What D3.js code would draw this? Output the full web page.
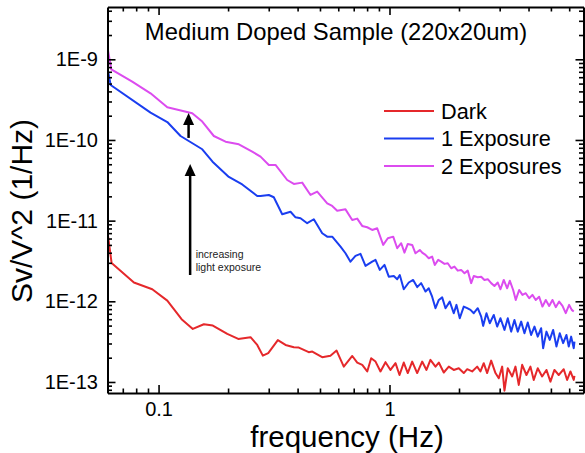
<!DOCTYPE html>
<html>
<head>
<meta charset="utf-8">
<script src="https://cdn.jsdelivr.net/npm/d3@7"></script>
<style>
  body { margin: 0; background: #fff; }
  text { font-family: "Liberation Sans", Arial, sans-serif; fill: #000; }
</style>
</head>
<body>
<svg id="chart" width="585" height="453"></svg>
<script>
// axis ranges and ticks
const xDomain = [0.0601, 6.92]
const yDomain = [7.3e-14, 4.45e-9]
const xMajorTicks = [0.1, 1]
const xTickLabels = ['0.1', '1']
const yMajorTicks = [1e-13, 1e-12, 1e-11, 1e-10, 1e-9]
const yTickLabels = ['1E-13', '1E-12', '1E-11', '1E-10', '1E-9']

// series (frequency in Hz, Sv/V^2 in 1/Hz)
const seriesNames = ['Dark', '1 Exposure', '2 Exposures']
const seriesColors = ['#e5282b', '#1a3ef0', '#dc4cef']

const darkFreq = [0.0601, 0.0626, 0.0782, 0.0939, 0.1091, 0.1258, 0.1407, 0.1571, 0.1718, 0.1984,
  0.2213, 0.2502, 0.2675, 0.2828, 0.2985, 0.3285, 0.3546, 0.3853, 0.405, 0.447,
  0.463, 0.511, 0.555, 0.590, 0.634, 0.690, 0.725, 0.762, 0.801, 0.833,
  0.870, 0.914, 0.961, 1.010, 1.062, 1.105, 1.153, 1.200, 1.254, 1.318,
  1.385, 1.446, 1.504, 1.582, 1.635, 1.718, 1.806, 1.898, 1.995, 2.097,
  2.170, 2.280, 2.397, 2.477, 2.559, 2.648, 2.756, 2.877, 2.973, 3.076,
  3.147, 3.252, 3.398, 3.512, 3.629, 3.754, 3.918, 4.077, 4.214, 4.385,
  4.581, 4.782, 4.977, 5.179, 5.406, 5.682, 5.879, 6.075, 6.279, 6.324]
const darkSv = [7.24e-12, 2.99e-12, 1.71e-12, 1.41e-12, 1.02e-12, 6.0e-13, 4.55e-13, 5.2e-13, 5.0e-13, 3.94e-13,
  3.42e-13, 3.59e-13, 2.88e-13, 2.12e-13, 2.28e-13, 3.30e-13, 2.88e-13, 2.70e-13, 2.67e-13, 2.34e-13,
  2.38e-13, 2.03e-13, 2.12e-13, 2.45e-13, 1.55e-13, 2.10e-13, 1.74e-13, 1.63e-13, 1.35e-13, 1.97e-13,
  1.79e-13, 1.35e-13, 1.76e-13, 1.41e-13, 1.71e-13, 1.22e-13, 1.74e-13, 1.29e-13, 1.79e-13, 1.29e-13,
  1.79e-13, 1.41e-13, 1.88e-13, 1.55e-13, 1.74e-13, 1.31e-13, 1.55e-13, 1.41e-13, 1.48e-13, 1.29e-13,
  1.44e-13, 1.35e-13, 1.55e-13, 1.35e-13, 1.71e-13, 1.29e-13, 1.84e-13, 1.29e-13, 1.11e-13, 1.55e-13,
  7.8e-14, 1.48e-13, 1.17e-13, 1.55e-13, 9.2e-14, 1.63e-13, 1.22e-13, 1.55e-13, 1.06e-13, 1.48e-13,
  1.17e-13, 1.41e-13, 1.01e-13, 1.41e-13, 1.22e-13, 1.44e-13, 1.06e-13, 1.35e-13, 1.06e-13, 1.19e-13]

const exp1Freq = [0.0601, 0.0620, 0.0923, 0.1091, 0.1245, 0.1546, 0.1713, 0.2015, 0.2303, 0.2675,
  0.2764, 0.3003, 0.3155, 0.3431, 0.3728, 0.3918, 0.4118, 0.4402, 0.4702, 0.5113,
  0.5374, 0.5648, 0.6137, 0.6449, 0.6777, 0.7123, 0.7488, 0.7873, 0.8416, 0.8698,
  0.9078, 0.9514, 0.9930, 1.044, 1.080, 1.108, 1.153, 1.212, 1.266, 1.318,
  1.371, 1.432, 1.479, 1.530, 1.582, 1.635, 1.691, 1.748, 1.824, 1.898,
  1.950, 2.015, 2.097, 2.170, 2.242, 2.317, 2.411, 2.495, 2.544, 2.630,
  2.718, 2.829, 2.926, 3.024, 3.147, 3.252, 3.364, 3.476, 3.593, 3.717,
  3.841, 3.969, 4.106, 4.244, 4.385, 4.536, 4.627, 4.782, 4.942, 5.113,
  5.284, 5.462, 5.649, 5.838, 5.974, 6.118, 6.279, 6.324]
const exp1Sv = [7.80e-10, 4.80e-10, 2.18e-10, 1.67e-10, 1.12e-10, 7.67e-11, 5.38e-11, 3.48e-11, 2.81e-11, 2.02e-11,
  2.02e-11, 2.08e-11, 1.95e-11, 1.20e-11, 1.29e-11, 1.10e-11, 1.07e-11, 9.29e-12, 1.04e-11, 6.98e-12,
  6.33e-12, 6.33e-12, 4.76e-12, 3.94e-12, 3.10e-12, 3.65e-12, 3.87e-12, 2.75e-12, 3.10e-12, 3.26e-12,
  2.45e-12, 2.83e-12, 2.02e-12, 2.06e-12, 1.88e-12, 2.12e-12, 1.41e-12, 1.71e-12, 1.84e-12, 1.50e-12,
  1.68e-12, 1.32e-12, 1.45e-12, 1.14e-12, 8.21e-13, 1.04e-12, 1.12e-12, 8.21e-13, 9.92e-13, 7.12e-13,
  9.03e-13, 6.17e-13, 8.60e-13, 8.21e-13, 7.83e-13, 7.12e-13, 8.21e-13, 6.46e-13, 4.96e-13, 7.12e-13,
  5.35e-13, 6.78e-13, 4.86e-13, 6.17e-13, 4.42e-13, 6.17e-13, 4.21e-13, 5.88e-13, 4.21e-13, 5.60e-13,
  4.02e-13, 5.45e-13, 3.83e-13, 4.86e-13, 3.65e-13, 4.64e-13, 2.62e-13, 4.21e-13, 3.32e-13, 4.42e-13,
  2.75e-13, 4.02e-13, 3.03e-13, 3.83e-13, 2.75e-13, 3.65e-13, 2.62e-13, 3.17e-13]

const exp2Freq = [0.0603, 0.0624, 0.0769, 0.0923, 0.1091, 0.1399, 0.1546, 0.1735, 0.1950, 0.2227,
  0.2544, 0.2764, 0.3003, 0.3209, 0.3607, 0.3853, 0.4188, 0.4550, 0.4864, 0.5374,
  0.5648, 0.5937, 0.6449, 0.6896, 0.7249, 0.7615, 0.8006, 0.8416, 0.8846, 0.9391,
  0.9832, 1.0376, 1.080, 1.124, 1.161, 1.200, 1.254, 1.296, 1.353, 1.385,
  1.432, 1.479, 1.530, 1.571, 1.625, 1.674, 1.730, 1.788, 1.850, 1.911,
  1.975, 2.043, 2.112, 2.182, 2.258, 2.317, 2.411, 2.495, 2.577, 2.664,
  2.756, 2.848, 2.943, 3.024, 3.125, 3.233, 3.318, 3.432, 3.522, 3.643,
  3.765, 3.891, 4.026, 4.159, 4.298, 4.447, 4.596, 4.750, 4.914, 5.078,
  5.248, 5.429, 5.611, 5.798, 5.997, 6.155, 6.279]
const exp2Sv = [1.33e-9, 7.52e-10, 5.28e-10, 3.79e-10, 2.54e-10, 2.14e-10, 1.69e-10, 1.12e-10, 9.53e-11, 8.84e-11,
  7.16e-11, 6.21e-11, 4.90e-11, 4.90e-11, 3.19e-11, 2.85e-11, 2.96e-11, 2.08e-11, 2.29e-11, 1.64e-11,
  1.52e-11, 1.33e-11, 1.38e-11, 1.02e-11, 1.06e-11, 8.60e-12, 8.28e-12, 7.67e-12, 8.05e-12, 5.00e-12,
  6.05e-12, 6.33e-12, 4.55e-12, 5.25e-12, 4.01e-12, 5.14e-12, 5.00e-12, 3.94e-12, 4.33e-12, 4.01e-12,
  3.76e-12, 3.42e-12, 3.58e-12, 2.82e-12, 3.26e-12, 3.10e-12, 2.91e-12, 2.96e-12, 2.57e-12, 2.69e-12,
  2.40e-12, 2.45e-12, 2.23e-12, 2.40e-12, 1.68e-12, 2.06e-12, 1.99e-12, 2.02e-12, 1.84e-12, 1.88e-12,
  1.68e-12, 1.55e-12, 1.71e-12, 1.41e-12, 1.84e-12, 1.45e-12, 1.80e-12, 1.38e-12, 1.04e-12, 1.38e-12,
  1.20e-12, 1.26e-12, 1.09e-12, 1.20e-12, 1.04e-12, 1.14e-12, 8.60e-13, 1.04e-12, 8.77e-13, 1.04e-12,
  8.45e-13, 9.92e-13, 8.77e-13, 7.12e-13, 9.03e-13, 7.83e-13, 7.46e-13]

// annotation arrows: frequency, start value, tip value
const arrowFreq = [0.1349, 0.1370]
const arrowFrom = [1.06e-10, 2.12e-12]
const arrowTo = [2.16e-10, 5.04e-11]
const annotationLines = ['increasing', 'light exposure']

const d3 = window.d3
const width = 585
const height = 453
const margin = {top: 7, right: 1.5, bottom: 60, left: 107.5}
const bottomY = height - margin.bottom
const rightX = width - margin.right

const x = d3.scaleLog().domain(xDomain).range([margin.left, rightX])
const y = d3.scaleLog().domain(yDomain).range([bottomY, margin.top])

const svg = d3.select('#chart')

svg.append('defs').append('clipPath').attr('id', 'plot-clip')
  .append('rect')
  .attr('x', margin.left).attr('y', margin.top)
  .attr('width', rightX - margin.left).attr('height', bottomY - margin.top)

// data lines
const series = [
  {freq: darkFreq, sv: darkSv},
  {freq: exp1Freq, sv: exp1Sv},
  {freq: exp2Freq, sv: exp2Sv}
]
const line = d3.line()
  .x(function(d) { return x(d[0]) })
  .y(function(d) { return y(d[1]) })

const lines = svg.append('g').attr('clip-path', 'url(#plot-clip)')
series.forEach(function(s, i) {
  lines.append('path')
    .datum(d3.zip(s.freq, s.sv))
    .attr('fill', 'none')
    .attr('stroke', seriesColors[i])
    .attr('stroke-width', 2)
    .attr('stroke-linejoin', 'round')
    .attr('d', line)
})

// axes: major + minor ticks, all pointing inward
const xMinor = x.ticks().filter(function(t) { return xMajorTicks.indexOf(t) < 0 })
const yMinor = y.ticks().filter(function(t) {
  return !yMajorTicks.some(function(m) { return Math.abs(m - t) / m < 1e-6 })
})

function styleAxis(g, keepDomain) {
  g.select('.domain').attr('stroke-width', keepDomain ? 2 : 0)
  g.selectAll('.tick line').attr('stroke-width', 1.6)
  g.selectAll('.tick text').attr('font-size', 20).attr('font-family', '"Liberation Sans", Arial, sans-serif')
}

svg.append('g').attr('transform', 'translate(0,' + bottomY + ')')
  .call(d3.axisBottom(x).tickValues(xMajorTicks).tickSizeInner(-8).tickSizeOuter(0).tickPadding(9)
    .tickFormat(function(d, i) { return xTickLabels[i] }))
  .call(styleAxis, true)
svg.append('g').attr('transform', 'translate(0,' + bottomY + ')')
  .call(d3.axisBottom(x).tickValues(xMinor).tickSize(-4.5).tickFormat(''))
  .call(styleAxis, false)

svg.append('g').attr('transform', 'translate(0,' + margin.top + ')')
  .call(d3.axisTop(x).tickValues(xMajorTicks).tickSizeInner(-8).tickSizeOuter(0).tickFormat(''))
  .call(styleAxis, true)
svg.append('g').attr('transform', 'translate(0,' + margin.top + ')')
  .call(d3.axisTop(x).tickValues(xMinor).tickSize(-4.5).tickFormat(''))
  .call(styleAxis, false)

svg.append('g').attr('transform', 'translate(' + margin.left + ',0)')
  .call(d3.axisLeft(y).tickValues(yMajorTicks).tickSizeInner(-8).tickSizeOuter(0).tickPadding(9.5)
    .tickFormat(function(d, i) { return yTickLabels[i] }))
  .call(styleAxis, true)
svg.append('g').attr('transform', 'translate(' + margin.left + ',0)')
  .call(d3.axisLeft(y).tickValues(yMinor).tickSize(-4.5).tickFormat(''))
  .call(styleAxis, false)

svg.append('g').attr('transform', 'translate(' + rightX + ',0)')
  .call(d3.axisRight(y).tickValues(yMajorTicks).tickSizeInner(-8).tickSizeOuter(0).tickFormat(''))
  .call(styleAxis, true)
svg.append('g').attr('transform', 'translate(' + rightX + ',0)')
  .call(d3.axisRight(y).tickValues(yMinor).tickSize(-4.5).tickFormat(''))
  .call(styleAxis, false)

// titles
svg.append('text')
  .attr('x', 336).attr('y', 39.5)
  .attr('text-anchor', 'middle')
  .attr('font-size', 23.8)
  .text('Medium Doped Sample (220x20um)')

svg.append('text')
  .attr('x', 347).attr('y', 446.5)
  .attr('text-anchor', 'middle')
  .attr('font-size', 29.5)
  .text('frequency (Hz)')

svg.append('text')
  .attr('transform', 'translate(32,211) rotate(-90)')
  .attr('text-anchor', 'middle')
  .attr('font-size', 30)
  .text('Sv/V^2 (1/Hz)')

// legend
const legend = svg.append('g').attr('transform', 'translate(384,111)')
seriesNames.forEach(function(name, i) {
  const row = legend.append('g').attr('transform', 'translate(0,' + (i * 27.5) + ')')
  row.append('line')
    .attr('x1', 0).attr('x2', 50)
    .attr('stroke', seriesColors[i]).attr('stroke-width', 2)
  row.append('text')
    .attr('x', 57).attr('dy', '0.35em')
    .attr('font-size', 21.7)
    .text(name)
})

// arrows and annotation
const headLen = 12
const headHalf = 5.5
arrowFreq.forEach(function(f, i) {
  const ax = x(f)
  const y0 = y(arrowFrom[i])
  const y1 = y(arrowTo[i])
  svg.append('line')
    .attr('x1', ax).attr('x2', ax)
    .attr('y1', y0).attr('y2', y1 + headLen - 1)
    .attr('stroke', '#000').attr('stroke-width', 2.5)
  svg.append('path')
    .attr('d', 'M' + ax + ',' + y1 + 'L' + (ax + headHalf) + ',' + (y1 + headLen) +
      'L' + (ax - headHalf) + ',' + (y1 + headLen) + 'Z')
    .attr('fill', '#000')
})

const note = svg.append('text')
  .attr('x', x(0.1448)).attr('y', y(2.12e-12) - 17)
  .attr('font-size', 10.5)
  .style('fill', '#222')
annotationLines.forEach(function(t, i) {
  note.append('tspan')
    .attr('x', x(0.1448)).attr('dy', i === 0 ? 0 : 13.5)
    .text(t)
})
</script>
</body>
</html>
